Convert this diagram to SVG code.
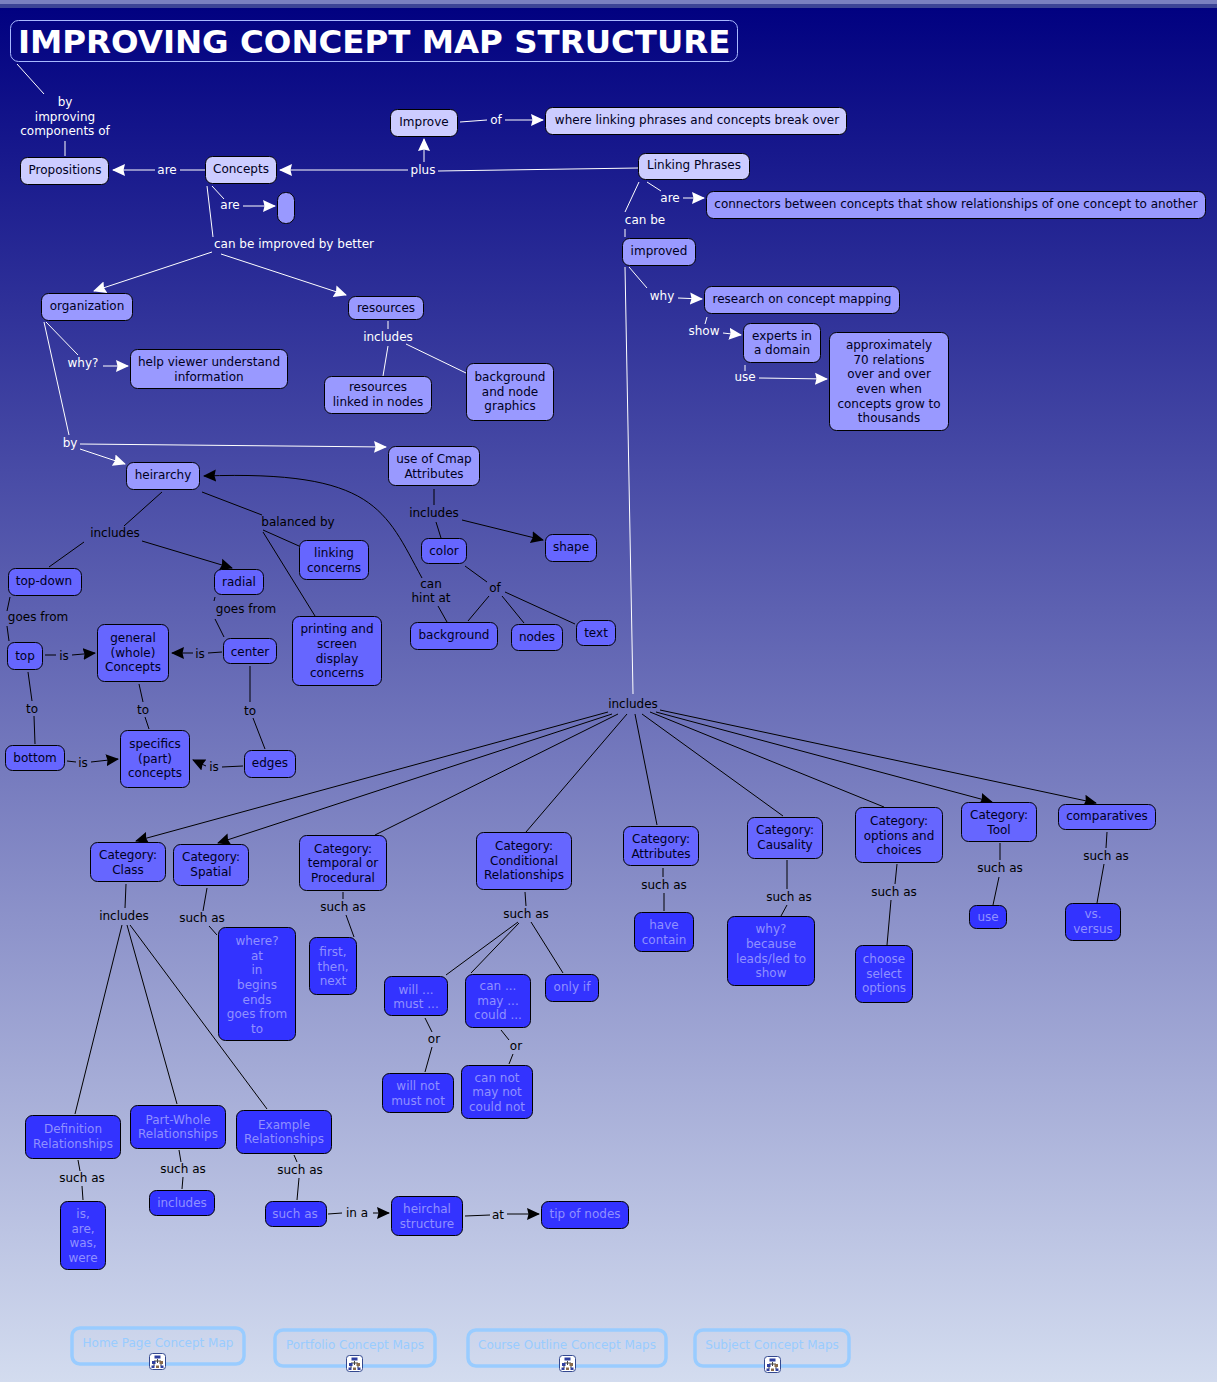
<svg xmlns="http://www.w3.org/2000/svg" width="1217" height="1382" viewBox="0 0 1217 1382">
<defs>
<linearGradient id="bg" x1="0" y1="0" x2="0" y2="1"><stop offset="0" stop-color="#000080"/><stop offset="1" stop-color="#d3dcef"/></linearGradient>
<marker id="aw" markerUnits="userSpaceOnUse" viewBox="0 0 13 13" refX="12" refY="6.500" markerWidth="13" markerHeight="13" orient="auto"><path d="M0 0.500L13 6.500L0 12.500L1.500 6.500Z" fill="#fff"/></marker>
<marker id="ak" markerUnits="userSpaceOnUse" viewBox="0 0 13 13" refX="12" refY="6.500" markerWidth="13" markerHeight="13" orient="auto"><path d="M0 0.500L13 6.500L0 12.500L1.500 6.500Z" fill="#000"/></marker>
<symbol id="icon" viewBox="0 0 17 17" width="17" height="17">
<rect class="ib" x="0.500" y="0.500" width="16" height="16" rx="3"/>
<path d="M8.500 6V10M5 13V8H12V13" fill="none" stroke="#444" stroke-width="1"/>
<rect class="i1" x="5.500" y="2.500" width="6" height="3"/>
<rect class="i1" x="3" y="8" width="3.500" height="3"/>
<rect class="i2" x="10.500" y="8" width="3.500" height="3"/>
<rect class="i1" x="2.500" y="12.500" width="3" height="2.500"/>
<rect class="i2" x="7" y="12.500" width="3" height="2.500"/>
<rect class="i1" x="11.500" y="12.500" width="3" height="2.500"/>
</symbol>
</defs>
<style>
text{font-family:"DejaVu Sans",Verdana,sans-serif;font-size:12px;text-anchor:middle}
.w line{stroke:#fff;stroke-width:1;fill:none}
.k line{stroke:#000;stroke-width:1;fill:none}
.k path{stroke:#000;fill:none}
.lw{fill:#fff}
.lk{fill:#000}
rect{stroke:#000;stroke-width:1}
.n{stroke:none}
.a rect{fill:#ccccff}.b rect{fill:#9999ff}.c rect{fill:#6666ff}.d rect{fill:#3333ff}
.a text,.b text,.c text{fill:#000022}.d text{fill:#9090ff}
.f rect{fill:none;stroke:#99ccff;stroke-width:3.500}.f text{fill:#99ccff}
.t rect{fill:none;stroke:#a8b8ff}
.t text{fill:#fff;font-size:32.450px;font-weight:bold;text-anchor:start}
.ib{fill:#fff;stroke:#33488f}
.i1{fill:#2f3f9f;stroke:none}
.i2{fill:#8a6a4a;stroke:none}
</style>
<rect class="n" width="1217" height="1382" fill="url(#bg)"/>
<rect class="n" width="1217" height="4" fill="#7a80c0"/>
<rect class="n" y="4" width="1217" height="4" fill="#3c4496"/>
<g id="connectors">
<g class="w">
<line x1="17" y1="64" x2="44" y2="94"/>
<line x1="65" y1="141" x2="65" y2="156"/>
<line x1="205" y1="170" x2="180" y2="170"/>
<line x1="155" y1="170" x2="113" y2="170" marker-end="url(#aw)"/>
<line x1="212" y1="186" x2="224" y2="199"/>
<line x1="243" y1="206" x2="275" y2="206" marker-end="url(#aw)"/>
<line x1="207" y1="186" x2="213" y2="237"/>
<line x1="212" y1="252" x2="94" y2="291" marker-end="url(#aw)"/>
<line x1="221" y1="254" x2="346" y2="295" marker-end="url(#aw)"/>
<line x1="408" y1="170" x2="280" y2="170" marker-end="url(#aw)"/>
<line x1="638" y1="168" x2="438" y2="171"/>
<line x1="424" y1="162" x2="424" y2="139" marker-end="url(#aw)"/>
<line x1="460" y1="122" x2="487" y2="120"/>
<line x1="505" y1="120" x2="543" y2="120" marker-end="url(#aw)"/>
<line x1="647" y1="182" x2="661" y2="191"/>
<line x1="683" y1="198" x2="704" y2="198" marker-end="url(#aw)"/>
<line x1="639" y1="182" x2="625" y2="212"/>
<line x1="625" y1="229" x2="625" y2="237"/>
<line x1="629" y1="267" x2="647" y2="288"/>
<line x1="678" y1="298" x2="702" y2="299" marker-end="url(#aw)"/>
<line x1="707" y1="317" x2="705" y2="324"/>
<line x1="723" y1="333" x2="741" y2="335" marker-end="url(#aw)"/>
<line x1="745" y1="365" x2="745" y2="371"/>
<line x1="759" y1="378" x2="827" y2="379" marker-end="url(#aw)"/>
<line x1="625" y1="267" x2="633" y2="694"/>
<line x1="388" y1="321" x2="388" y2="329"/>
<line x1="388" y1="346" x2="383" y2="376"/>
<line x1="406" y1="344" x2="466" y2="373"/>
<line x1="46" y1="322" x2="78" y2="355"/>
<line x1="103" y1="366" x2="128" y2="366" marker-end="url(#aw)"/>
<line x1="44" y1="322" x2="69" y2="435"/>
<line x1="80" y1="444" x2="386" y2="447" marker-end="url(#aw)"/>
<line x1="80" y1="449" x2="125" y2="464" marker-end="url(#aw)"/>
</g>
<g class="k">
<line x1="162" y1="492" x2="124" y2="526"/>
<line x1="84" y1="542" x2="49" y2="567"/>
<line x1="142" y1="541" x2="232" y2="568" marker-end="url(#ak)"/>
<line x1="202" y1="492" x2="262" y2="515"/>
<line x1="263" y1="530" x2="299" y2="546"/>
<line x1="263" y1="532" x2="315" y2="616"/>
<line x1="10" y1="597" x2="7" y2="611"/>
<line x1="7" y1="626" x2="9" y2="641"/>
<line x1="45" y1="655" x2="56" y2="655"/>
<line x1="72" y1="655" x2="95" y2="653" marker-end="url(#ak)"/>
<line x1="28" y1="672" x2="32" y2="701"/>
<line x1="34" y1="716" x2="35" y2="744"/>
<line x1="215" y1="597" x2="214" y2="601"/>
<line x1="215" y1="619" x2="224" y2="637"/>
<line x1="222" y1="652" x2="208" y2="653"/>
<line x1="193" y1="653" x2="172" y2="653" marker-end="url(#ak)"/>
<line x1="139" y1="684" x2="143" y2="702"/>
<line x1="145" y1="717" x2="149" y2="729"/>
<line x1="250" y1="666" x2="250" y2="702"/>
<line x1="253" y1="718" x2="265" y2="749"/>
<line x1="67" y1="761" x2="76" y2="762"/>
<line x1="91" y1="762" x2="118" y2="759" marker-end="url(#ak)"/>
<line x1="243" y1="766" x2="222" y2="767"/>
<line x1="206" y1="766" x2="193" y2="760" marker-end="url(#ak)"/>
<line x1="434" y1="489" x2="434" y2="505"/>
<line x1="436" y1="522" x2="441" y2="538"/>
<line x1="462" y1="520" x2="543" y2="540" marker-end="url(#ak)"/>
<path d="M422 578C385 510 375 470 204 476" marker-end="url(#ak)"/>
<line x1="438" y1="606" x2="447" y2="622"/>
<line x1="465" y1="566" x2="487" y2="582"/>
<line x1="489" y1="596" x2="468" y2="621"/>
<line x1="502" y1="596" x2="524" y2="623"/>
<line x1="505" y1="592" x2="575" y2="624"/>
<line x1="608" y1="712" x2="136" y2="841" marker-end="url(#ak)"/>
<line x1="612" y1="714" x2="218" y2="843" marker-end="url(#ak)"/>
<line x1="618" y1="714" x2="375" y2="835"/>
<line x1="627" y1="714" x2="526" y2="832"/>
<line x1="635" y1="714" x2="657" y2="825"/>
<line x1="642" y1="714" x2="783" y2="816"/>
<line x1="650" y1="712" x2="884" y2="807"/>
<line x1="656" y1="712" x2="992" y2="802" marker-end="url(#ak)"/>
<line x1="660" y1="710" x2="1096" y2="803" marker-end="url(#ak)"/>
<line x1="126" y1="884" x2="125" y2="908"/>
<line x1="207" y1="888" x2="203" y2="911"/>
<line x1="209" y1="926" x2="217" y2="935"/>
<line x1="343" y1="892" x2="343" y2="899"/>
<line x1="346" y1="915" x2="354" y2="937"/>
<line x1="525" y1="892" x2="526" y2="906"/>
<line x1="518" y1="922" x2="446" y2="975"/>
<line x1="519" y1="923" x2="471" y2="973"/>
<line x1="531" y1="922" x2="563" y2="973"/>
<line x1="663" y1="868" x2="663" y2="877"/>
<line x1="664" y1="893" x2="664" y2="911"/>
<line x1="787" y1="860" x2="787" y2="889"/>
<line x1="787" y1="905" x2="781" y2="916"/>
<line x1="897" y1="864" x2="895" y2="884"/>
<line x1="891" y1="900" x2="887" y2="945"/>
<line x1="1000" y1="843" x2="1000" y2="860"/>
<line x1="999" y1="877" x2="993" y2="905"/>
<line x1="1107" y1="832" x2="1106" y2="848"/>
<line x1="1104" y1="864" x2="1097" y2="903"/>
<line x1="122" y1="925" x2="75" y2="1114"/>
<line x1="127" y1="925" x2="177" y2="1104"/>
<line x1="130" y1="925" x2="267" y2="1109"/>
<line x1="425" y1="1018" x2="432" y2="1032"/>
<line x1="432" y1="1047" x2="425" y2="1072"/>
<line x1="501" y1="1030" x2="509" y2="1040"/>
<line x1="513" y1="1054" x2="509" y2="1064"/>
<line x1="78" y1="1160" x2="80" y2="1171"/>
<line x1="82" y1="1186" x2="83" y2="1200"/>
<line x1="179" y1="1150" x2="181" y2="1162"/>
<line x1="183" y1="1177" x2="182" y2="1189"/>
<line x1="294" y1="1155" x2="297" y2="1162"/>
<line x1="299" y1="1178" x2="297" y2="1200"/>
<line x1="328" y1="1214" x2="342" y2="1213"/>
<line x1="373" y1="1213" x2="389" y2="1213" marker-end="url(#ak)"/>
<line x1="465" y1="1216" x2="490" y2="1215"/>
<line x1="507" y1="1214" x2="539" y2="1214" marker-end="url(#ak)"/>
</g>
<g class="lw">
<text x="65" y="106">by</text><text x="65" y="121">improving</text><text x="65" y="135">components of</text>
<text x="167" y="174">are</text><text x="230" y="209">are</text><text x="294" y="248">can be improved by better</text>
<text x="423" y="174">plus</text><text x="496" y="124">of</text><text x="670" y="202">are</text><text x="645" y="224">can be</text>
<text x="662" y="300">why</text><text x="704" y="335">show</text><text x="745" y="381">use</text>
<text x="388" y="341">includes</text><text x="83" y="367">why?</text><text x="70" y="447">by</text>
</g>
<g class="lk">
<text x="115" y="537">includes</text><text x="298" y="526">balanced by</text><text x="38" y="621">goes from</text><text x="246" y="613">goes from</text>
<text x="64" y="660">is</text><text x="200" y="658">is</text><text x="32" y="713">to</text><text x="143" y="714">to</text><text x="250" y="715">to</text>
<text x="83" y="767">is</text><text x="214" y="771">is</text><text x="434" y="517">includes</text>
<text x="431" y="588">can</text><text x="431" y="602">hint at</text><text x="495" y="592">of</text><text x="633" y="708">includes</text>
<text x="124" y="920">includes</text><text x="202" y="922">such as</text><text x="343" y="911">such as</text><text x="526" y="918">such as</text>
<text x="664" y="889">such as</text><text x="789" y="901">such as</text><text x="894" y="896">such as</text><text x="1000" y="872">such as</text><text x="1106" y="860">such as</text>
<text x="434" y="1043">or</text><text x="516" y="1050">or</text><text x="82" y="1182">such as</text><text x="183" y="1173">such as</text><text x="300" y="1174">such as</text>
<text x="357" y="1217">in a</text><text x="498" y="1219">at</text>
</g>
</g>
<g id="title" class="t"><rect x="10.500" y="20.500" width="727" height="41" rx="8"/><text x="18" y="53">IMPROVING CONCEPT MAP STRUCTURE</text></g>
<g id="n1" class="a"><rect x="20.500" y="157.500" width="88" height="27" rx="7"/><text x="65" y="174">Propositions</text></g>
<g id="n2" class="a"><rect x="205.500" y="156.500" width="71" height="27" rx="7"/><text x="241" y="173">Concepts</text></g>
<g id="n3" class="b"><rect x="277.500" y="192.500" width="17" height="31" rx="8"/></g>
<g id="n4" class="a"><rect x="390.500" y="109.500" width="67" height="27" rx="7"/><text x="424" y="126">Improve</text></g>
<g id="n5" class="a"><rect x="545.500" y="107.500" width="301" height="27" rx="7"/><text x="697" y="124">where linking phrases and concepts break over</text></g>
<g id="n6" class="a"><rect x="638.500" y="153.500" width="111" height="26" rx="7"/><text x="694" y="169">Linking Phrases</text></g>
<g id="n7" class="b"><rect x="706.500" y="191.500" width="499" height="27" rx="7"/><text x="956" y="208">connectors between concepts that show relationships of one concept to another</text></g>
<g id="n8" class="b"><rect x="622.500" y="238.500" width="73" height="27" rx="7"/><text x="659" y="255">improved</text></g>
<g id="n9" class="b"><rect x="704.500" y="286.500" width="195" height="27" rx="7"/><text x="802" y="303">research on concept mapping</text></g>
<g id="n10" class="b"><rect x="743.500" y="323.500" width="77" height="39" rx="7"/><text x="782" y="340">experts in</text><text x="782" y="354">a domain</text></g>
<g id="n11" class="b"><rect x="829.500" y="332.500" width="119" height="98" rx="7"/><text x="889" y="349">approximately</text><text x="889" y="364">70 relations</text><text x="889" y="378">over and over</text><text x="889" y="393">even when</text><text x="889" y="408">concepts grow to</text><text x="889" y="422">thousands</text></g>
<g id="n12" class="b"><rect x="41.500" y="293.500" width="91" height="27" rx="7"/><text x="87" y="310">organization</text></g>
<g id="n13" class="b"><rect x="348.500" y="296.500" width="75" height="23" rx="7"/><text x="386" y="312">resources</text></g>
<g id="n14" class="b"><rect x="130.500" y="349.500" width="157" height="39" rx="7"/><text x="209" y="366">help viewer understand</text><text x="209" y="381">information</text></g>
<g id="n15" class="b"><rect x="324.500" y="376.500" width="107" height="37" rx="7"/><text x="378" y="391">resources</text><text x="378" y="406">linked in nodes</text></g>
<g id="n16" class="b"><rect x="466.500" y="363.500" width="87" height="57" rx="7"/><text x="510" y="381">background</text><text x="510" y="396">and node</text><text x="510" y="410">graphics</text></g>
<g id="n17" class="b"><rect x="126.500" y="462.500" width="73" height="27" rx="7"/><text x="163" y="479">heirarchy</text></g>
<g id="n18" class="b"><rect x="388.500" y="446.500" width="91" height="39" rx="7"/><text x="434" y="463">use of Cmap</text><text x="434" y="478">Attributes</text></g>
<g id="n19" class="c"><rect x="8.500" y="568.500" width="73" height="27" rx="7"/><text x="44" y="585">top-down</text></g>
<g id="n20" class="c"><rect x="214.500" y="569.500" width="49" height="25" rx="7"/><text x="239" y="586">radial</text></g>
<g id="n21" class="c"><rect x="299.500" y="540.500" width="69" height="39" rx="7"/><text x="334" y="557">linking</text><text x="334" y="572">concerns</text></g>
<g id="n22" class="c"><rect x="292.500" y="616.500" width="89" height="69" rx="7"/><text x="337" y="633">printing and</text><text x="337" y="648">screen</text><text x="337" y="663">display</text><text x="337" y="677">concerns</text></g>
<g id="n23" class="c"><rect x="7.500" y="642.500" width="35" height="27" rx="7"/><text x="25" y="660">top</text></g>
<g id="n24" class="c"><rect x="97.500" y="624.500" width="71" height="57" rx="7"/><text x="133" y="642">general</text><text x="133" y="657">(whole)</text><text x="133" y="671">Concepts</text></g>
<g id="n25" class="c"><rect x="223.500" y="638.500" width="53" height="25" rx="7"/><text x="250" y="656">center</text></g>
<g id="n26" class="c"><rect x="5.500" y="745.500" width="59" height="25" rx="7"/><text x="35" y="762">bottom</text></g>
<g id="n27" class="c"><rect x="120.500" y="730.500" width="69" height="57" rx="7"/><text x="155" y="748">specifics</text><text x="155" y="763">(part)</text><text x="155" y="777">concepts</text></g>
<g id="n28" class="c"><rect x="244.500" y="750.500" width="51" height="27" rx="7"/><text x="270" y="767">edges</text></g>
<g id="n29" class="c"><rect x="421.500" y="538.500" width="45" height="25" rx="7"/><text x="444" y="555">color</text></g>
<g id="n30" class="c"><rect x="545.500" y="534.500" width="51" height="27" rx="7"/><text x="571" y="551">shape</text></g>
<g id="n31" class="c"><rect x="410.500" y="622.500" width="87" height="27" rx="7"/><text x="454" y="639">background</text></g>
<g id="n32" class="c"><rect x="511.500" y="624.500" width="51" height="26" rx="7"/><text x="537" y="641">nodes</text></g>
<g id="n33" class="c"><rect x="576.500" y="620.500" width="39" height="25" rx="7"/><text x="596" y="637">text</text></g>
<g id="n34" class="c"><rect x="90.500" y="842.500" width="75" height="39" rx="7"/><text x="128" y="859">Category:</text><text x="128" y="874">Class</text></g>
<g id="n35" class="c"><rect x="173.500" y="844.500" width="75" height="41" rx="7"/><text x="211" y="861">Category:</text><text x="211" y="876">Spatial</text></g>
<g id="n36" class="c"><rect x="299.500" y="835.500" width="87" height="55" rx="7"/><text x="343" y="853">Category:</text><text x="343" y="867">temporal or</text><text x="343" y="882">Procedural</text></g>
<g id="n37" class="c"><rect x="476.500" y="832.500" width="95" height="57" rx="7"/><text x="524" y="850">Category:</text><text x="524" y="865">Conditional</text><text x="524" y="879">Relationships</text></g>
<g id="n38" class="c"><rect x="623.500" y="826.500" width="75" height="39" rx="7"/><text x="661" y="843">Category:</text><text x="661" y="858">Attributes</text></g>
<g id="n39" class="c"><rect x="747.500" y="817.500" width="75" height="41" rx="7"/><text x="785" y="834">Category:</text><text x="785" y="849">Causality</text></g>
<g id="n40" class="c"><rect x="855.500" y="807.500" width="87" height="55" rx="7"/><text x="899" y="825">Category:</text><text x="899" y="840">options and</text><text x="899" y="854">choices</text></g>
<g id="n41" class="c"><rect x="961.500" y="802.500" width="75" height="39" rx="7"/><text x="999" y="819">Category:</text><text x="999" y="834">Tool</text></g>
<g id="n42" class="c"><rect x="1058.500" y="804.500" width="97" height="25" rx="7"/><text x="1107" y="820">comparatives</text></g>
<g id="n43" class="d"><rect x="218.500" y="927.500" width="77" height="113" rx="7"/><text x="257" y="945">where?</text><text x="257" y="960">at</text><text x="257" y="974">in</text><text x="257" y="989">begins</text><text x="257" y="1004">ends</text><text x="257" y="1018">goes from</text><text x="257" y="1033">to</text></g>
<g id="n44" class="d"><rect x="309.500" y="937.500" width="47" height="57" rx="7"/><text x="333" y="956">first,</text><text x="333" y="971">then,</text><text x="333" y="985">next</text></g>
<g id="n45" class="d"><rect x="384.500" y="976.500" width="63" height="39" rx="7"/><text x="416" y="994">will ...</text><text x="416" y="1008">must ...</text></g>
<g id="n46" class="d"><rect x="465.500" y="974.500" width="65" height="53" rx="7"/><text x="498" y="990">can ...</text><text x="498" y="1005">may ...</text><text x="498" y="1019">could ...</text></g>
<g id="n47" class="d"><rect x="545.500" y="974.500" width="53" height="27" rx="7"/><text x="572" y="991">only if</text></g>
<g id="n48" class="d"><rect x="634.500" y="912.500" width="59" height="39" rx="7"/><text x="664" y="929">have</text><text x="664" y="944">contain</text></g>
<g id="n49" class="d"><rect x="727.500" y="916.500" width="87" height="69" rx="7"/><text x="771" y="933">why?</text><text x="771" y="948">because</text><text x="771" y="963">leads/led to</text><text x="771" y="977">show</text></g>
<g id="n50" class="d"><rect x="855.500" y="945.500" width="57" height="57" rx="7"/><text x="884" y="963">choose</text><text x="884" y="978">select</text><text x="884" y="992">options</text></g>
<g id="n51" class="d"><rect x="969.500" y="905.500" width="37" height="23" rx="7"/><text x="988" y="921">use</text></g>
<g id="n52" class="d"><rect x="1065.500" y="903.500" width="55" height="37" rx="7"/><text x="1093" y="918">vs.</text><text x="1093" y="933">versus</text></g>
<g id="n53" class="d"><rect x="382.500" y="1073.500" width="71" height="39" rx="7"/><text x="418" y="1090">will not</text><text x="418" y="1105">must not</text></g>
<g id="n54" class="d"><rect x="461.500" y="1065.500" width="71" height="53" rx="7"/><text x="497" y="1082">can not</text><text x="497" y="1096">may not</text><text x="497" y="1111">could not</text></g>
<g id="n55" class="d"><rect x="25.500" y="1115.500" width="95" height="43" rx="7"/><text x="73" y="1133">Definition</text><text x="73" y="1148">Relationships</text></g>
<g id="n56" class="d"><rect x="130.500" y="1105.500" width="95" height="43" rx="7"/><text x="178" y="1124">Part-Whole</text><text x="178" y="1138">Relationships</text></g>
<g id="n57" class="d"><rect x="236.500" y="1110.500" width="95" height="43" rx="7"/><text x="284" y="1129">Example</text><text x="284" y="1143">Relationships</text></g>
<g id="n58" class="d"><rect x="60.500" y="1201.500" width="45" height="68" rx="7"/><text x="83" y="1218">is,</text><text x="83" y="1233">are,</text><text x="83" y="1247">was,</text><text x="83" y="1262">were</text></g>
<g id="n59" class="d"><rect x="149.500" y="1190.500" width="65" height="25" rx="7"/><text x="182" y="1207">includes</text></g>
<g id="n60" class="d"><rect x="265.500" y="1201.500" width="61" height="25" rx="7"/><text x="295" y="1218">such as</text></g>
<g id="n61" class="d"><rect x="391.500" y="1196.500" width="71" height="39" rx="7"/><text x="427" y="1213">heirchal</text><text x="427" y="1228">structure</text></g>
<g id="n62" class="d"><rect x="541.500" y="1201.500" width="87" height="27" rx="7"/><text x="585" y="1218">tip of nodes</text></g>
<g id="f1"><g class="f"><rect x="72" y="1328" width="172" height="36" rx="8"/><text x="158" y="1347">Home Page Concept Map</text></g><use href="#icon" x="149" y="1353"/></g>
<g id="f2"><g class="f"><rect x="275" y="1330" width="160" height="36" rx="8"/><text x="355" y="1349">Portfolio Concept Maps</text></g><use href="#icon" x="346" y="1355"/></g>
<g id="f3"><g class="f"><rect x="468" y="1330" width="198" height="36" rx="8"/><text x="567" y="1349">Course Outline Concept Maps</text></g><use href="#icon" x="559" y="1355"/></g>
<g id="f4"><g class="f"><rect x="695" y="1330" width="154" height="36" rx="8"/><text x="772" y="1349">Subject Concept Maps</text></g><use href="#icon" x="764" y="1356"/></g>
</svg>
